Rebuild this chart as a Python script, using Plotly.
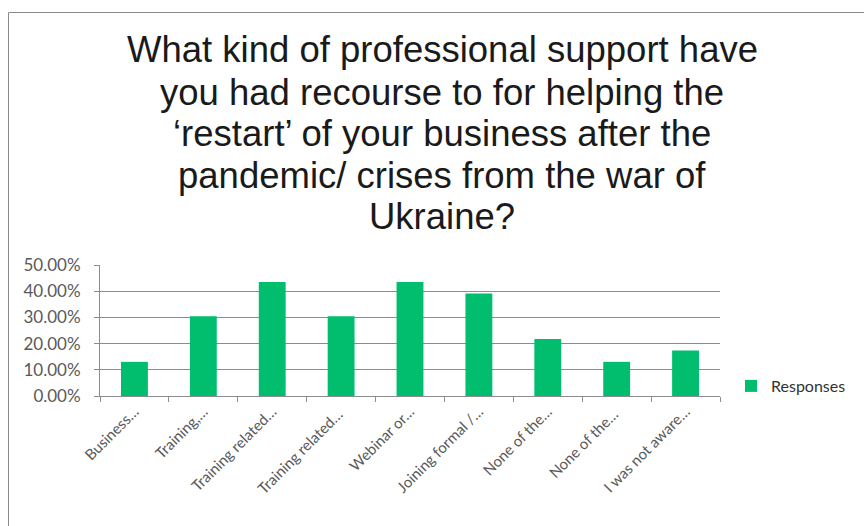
import plotly.graph_objects as go

# Survey answers (truncated labels as they appear on the axis)
categories = [
    "Business…",
    "Training,…",
    "Training related…",
    "Training related… ",
    "Webinar or…",
    "Joining formal /…",
    "None of the…",
    "None of the… ",
    "I was not aware…",
]
responses = [0.1304, 0.3043, 0.4348, 0.3043, 0.4348, 0.3913, 0.2174, 0.1304, 0.1739]
series_name = "Responses"

title_lines = [
    "What kind of professional support have",
    "you had recourse to for helping the",
    "‘restart’ of your business after the",
    "pandemic/ crises from the war of",
    "Ukraine?",
]
y_ticks = [0, 0.1, 0.2, 0.3, 0.4, 0.5]

W, H = 864, 526
ML, MR, MT, MB = 100, 144, 265, 130
PW, PH = W - ML - MR, H - MT - MB

BAR = "#00BE6E"
GRID = "#8C8C8C"
LABEL = "#595959"
TICKFONT = "Lato"


def px_x(px):
    return (px - ML) / PW


def px_y(py):
    return (H - MB - py) / PH


fig = go.Figure(
    go.Bar(
        x=categories,
        y=responses,
        name=series_name,
        marker=dict(color=BAR, line=dict(width=0)),
        showlegend=True,
    )
)

# multi-line heading, one annotation per line
title_y = [50, 92, 133, 175, 216]
annotations = []
for text, ty in zip(title_lines, title_y):
    annotations.append(
        dict(
            text=text,
            x=px_x(442),
            y=px_y(ty),
            xref="paper",
            yref="paper",
            xanchor="center",
            yanchor="middle",
            showarrow=False,
            font=dict(family="Arial", size=36.5, color="#1a1a1a"),
        )
    )

fig.update_layout(
    width=W,
    height=H,
    margin=dict(l=ML, r=MR, t=MT, b=MB, autoexpand=False),
    paper_bgcolor="white",
    plot_bgcolor="white",
    bargap=0.61,
    annotations=annotations,
    legend=dict(
        x=px_x(731),
        y=px_y(386),
        xanchor="left",
        yanchor="middle",
        font=dict(family=TICKFONT, size=16, color="#333333"),
        itemwidth=30,
        bgcolor="rgba(0,0,0,0)",
    ),
    shapes=[
        dict(
            type="rect",
            xref="paper",
            yref="paper",
            x0=px_x(8.5),
            x1=px_x(W + 20),
            y0=px_y(H + 20),
            y1=px_y(12.5),
            line=dict(color="#8a8a8a", width=1),
            fillcolor="rgba(0,0,0,0)",
            layer="below",
        )
    ],
)

fig.update_yaxes(
    range=[0, 0.5],
    tickvals=y_ticks,
    tickformat=".2%",
    showgrid=True,
    gridcolor=GRID,
    gridwidth=1,
    showline=True,
    linecolor=GRID,
    linewidth=1,
    ticks="outside",
    ticklen=5,
    tickcolor=GRID,
    ticklabelstandoff=10,
    tickfont=dict(family=TICKFONT, size=17, color=LABEL),
    zeroline=False,
    fixedrange=True,
)
fig.update_xaxes(
    type="category",
    showline=True,
    linecolor=GRID,
    linewidth=1,
    ticks="outside",
    tickson="boundaries",
    ticklen=5,
    tickcolor=GRID,
    tickangle=-45,
    tickfont=dict(family=TICKFONT, size=15, color=LABEL),
    showgrid=False,
    fixedrange=True,
)

fig.write_html("out.html", config={"displayModeBar": False})
